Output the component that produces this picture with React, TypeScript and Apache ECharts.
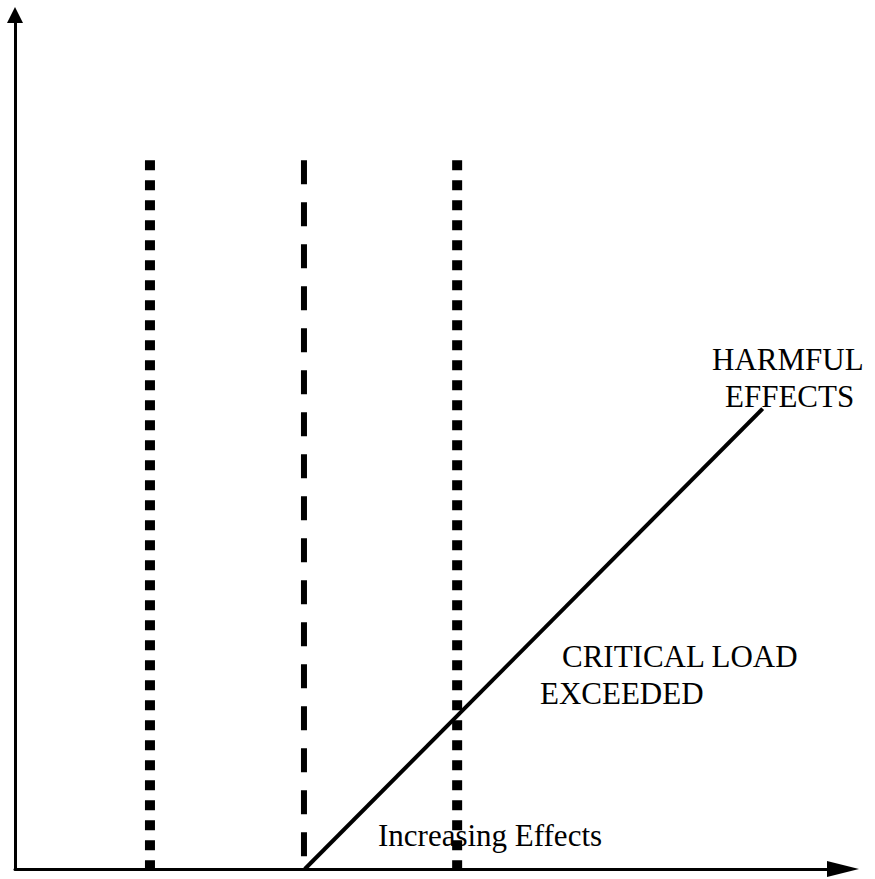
import React, { useEffect, useRef } from "react";
import * as echarts from "echarts";

// Conceptual axes run 0..100 in both directions
const axisRange = [0, 100];
// x positions of the three vertical threshold lines
const dottedLineXs = [16.3, 53.4];
const dashedLineXs = [34.9];
const thresholdTop = 83.0;
// the exceedance (harmful effects) line
const effectLineX = [35.0, 90.3];
const effectLineY = [0, 53.9];
// annotation texts
const harmfulLabel = ["HARMFUL", "EFFECTS"];
const criticalLabel = ["CRITICAL LOAD", "EXCEEDED"];
const xAxisLabel = "Increasing Effects";

const FONT = "Liberation Serif";

export default function App() {
  const ref = useRef<HTMLDivElement>(null);
  useEffect(() => {
    if (!ref.current) return;
    const chart = echarts.init(ref.current, null, { renderer: "svg" });
    const series: any[] = [];
    dottedLineXs.forEach((x) =>
      series.push({
        type: "line",
        data: [
          [x, thresholdTop],
          [x, axisRange[0]],
        ],
        showSymbol: false,
        silent: true,
        lineStyle: { color: "#000", width: 10, type: [10, 10], cap: "butt" },
      })
    );
    dashedLineXs.forEach((x) =>
      series.push({
        type: "line",
        data: [
          [x, thresholdTop],
          [x, axisRange[0]],
        ],
        showSymbol: false,
        silent: true,
        lineStyle: { color: "#000", width: 6, type: [24, 18], cap: "butt" },
      })
    );
    series.push({
      type: "line",
      data: effectLineX.map((x, i) => [x, effectLineY[i]]),
      showSymbol: false,
      silent: true,
      lineStyle: { color: "#000", width: 4 },
    });

    const textEl = (text: string, x: number, y: number) => ({
      type: "text",
      x,
      y,
      style: {
        text,
        fill: "#000",
        fontFamily: FONT,
        fontSize: 31,
        fontWeight: "normal",
        verticalAlign: "middle",
        align: "left",
      },
    });

    chart.setOption({
      animation: false,
      backgroundColor: "#fff",
      grid: { left: 15, right: 32, top: 15, bottom: 10 },
      xAxis: {
        type: "value",
        min: axisRange[0],
        max: axisRange[1],
        axisLabel: { show: false },
        axisTick: { show: false },
        splitLine: { show: false },
        axisLine: {
          show: true,
          onZero: false,
          symbol: ["none", "triangle"],
          symbolSize: [16, 32],
          lineStyle: { color: "#000", width: 3 },
        },
      },
      yAxis: {
        type: "value",
        min: axisRange[0],
        max: axisRange[1],
        axisLabel: { show: false },
        axisTick: { show: false },
        splitLine: { show: false },
        axisLine: {
          show: true,
          onZero: false,
          symbol: ["none", "triangle"],
          symbolSize: [16, 16],
          lineStyle: { color: "#000", width: 3 },
        },
      },
      series,
      graphic: [
        textEl(harmfulLabel[0], 712, 359),
        textEl(harmfulLabel[1], 725, 396),
        textEl(criticalLabel[0], 562, 656),
        textEl(criticalLabel[1], 540, 693),
        textEl(xAxisLabel, 378, 835),
      ],
    });
    return () => chart.dispose();
  }, []);
  return (
    <div
      ref={ref}
      style={{ position: "absolute", left: 0, top: 0, width: 875, height: 879 }}
    />
  );
}
